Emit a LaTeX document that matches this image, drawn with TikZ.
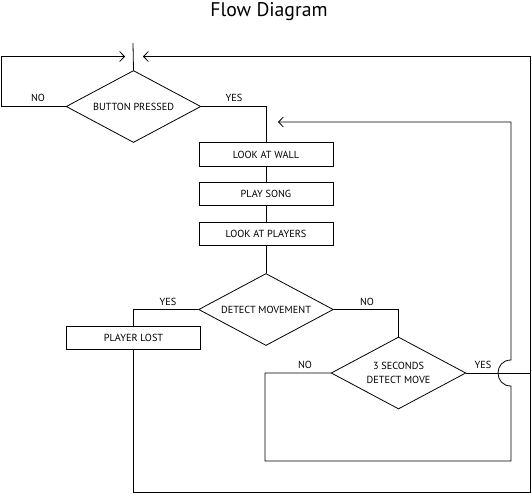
\documentclass[tikz,border=0pt]{standalone}
\usepackage{fontspec}
\setmainfont{PT Sans}
\usetikzlibrary{shapes.geometric,arrows.meta}
\begin{document}
\begin{tikzpicture}[x=0.75pt,y=-0.75pt,
  line width=0.6pt,
  every node/.style={font=\fontsize{7.7}{9}\selectfont},
  stepbox/.style={draw,rectangle,minimum width=100.5pt,minimum height=17.5pt,inner sep=0pt},
  decision/.style={draw,diamond,aspect=1.86,minimum width=101pt,minimum height=54pt,inner sep=0pt,align=center},
  lbl/.style={inner sep=0pt},
  arr/.style={-{Straight Barb[length=3.6pt,width=7.5pt]}}]
\useasboundingbox (0,0) rectangle (532,494);
\node[font=\fontsize{14.8}{16}\selectfont] (title) at (269,12) {Flow Diagram};

\node[decision] (bp) at (133.5,106.5) {BUTTON PRESSED};
\node[stepbox] (wall) at (266,154.5) {LOOK AT WALL};
\node[stepbox] (song) at (266,194) {PLAY SONG};
\node[stepbox] (players) at (266,234) {LOOK AT PLAYERS};
\node[decision] (dm) at (266,309.5) {DETECT MOVEMENT};
\node[stepbox] (lost) at (133.5,338) {PLAYER LOST};
\node[decision] (sec) at (398.5,373) {3 SECONDS\\[1pt]DETECT MOVE};

\coordinate (topin) at (133,43);
\coordinate (tipL) at (125,56.5);
\coordinate (tipR) at (143,56.5);
\coordinate (tipM) at (278,122);
\coordinate (edgeYes) at (531,373);

\node[lbl] (noA) at (38,98) {NO};
\node[lbl] (yesA) at (234,98) {YES};
\node[lbl] (yesB) at (168,302) {YES};
\node[lbl] (noB) at (367,302) {NO};
\node[lbl] (noC) at (305,365) {NO};
\node[lbl] (yesC) at (483,365) {YES};

\draw (topin) -- (bp.north);
\draw[arr] (bp.west) -- (1,106.5) -- (1,56.5) -- (tipL);
\draw (bp.east) -| (wall.north);
\draw (wall.south) -- (song.north);
\draw (song.south) -- (players.north);
\draw (players.south) -- (dm.north);
\draw (dm.west) -| (lost.north);
\draw (dm.east) -| (sec.north);
\draw[arr] (lost.south) -- (133.5,492) -- (530.5,492) -- (530.5,56.5) -- (tipR);
\draw (sec.east) -- (edgeYes);
\draw[arr] (sec.west) -- (265,373) -- (265,461) -- (511,461) -- (511,386)
  .. controls (493.7,386) and (493.7,360) .. (511,360) -- (511,122) -- (tipM);
\end{tikzpicture}
\end{document}
